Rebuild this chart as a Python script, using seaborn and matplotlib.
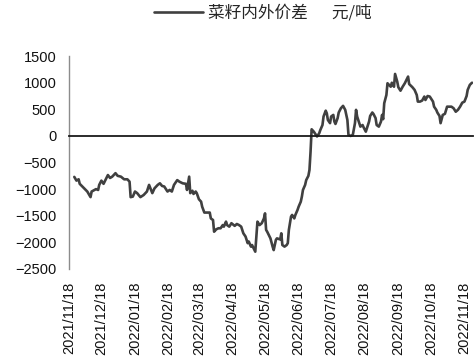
import matplotlib
matplotlib.use("Agg")
import matplotlib.pyplot as plt
import matplotlib.dates as mdates
import pandas as pd
import seaborn as sns

# Rapeseed domestic vs. overseas price spread (yuan/ton)
dates = [
    "2021-11-23", "2021-11-25", "2021-11-27", "2021-11-28", "2021-12-05", "2021-12-08",
    "2021-12-09", "2021-12-13", "2021-12-15", "2021-12-16", "2021-12-18", "2021-12-20",
    "2021-12-24", "2021-12-26", "2021-12-28", "2021-12-31", "2022-01-02", "2022-01-05",
    "2022-01-08", "2022-01-11", "2022-01-13", "2022-01-14", "2022-01-16", "2022-01-18",
    "2022-01-20", "2022-01-23", "2022-01-26", "2022-01-29", "2022-01-31", "2022-02-03",
    "2022-02-05", "2022-02-08", "2022-02-10", "2022-02-12", "2022-02-14", "2022-02-17",
    "2022-02-19", "2022-02-21", "2022-02-23", "2022-02-26", "2022-02-28", "2022-03-03",
    "2022-03-06", "2022-03-07", "2022-03-09", "2022-03-10", "2022-03-12", "2022-03-13",
    "2022-03-15", "2022-03-16", "2022-03-18", "2022-03-20", "2022-03-21", "2022-03-23",
    "2022-03-25", "2022-03-28", "2022-03-29", "2022-03-31", "2022-04-01", "2022-04-03",
    "2022-04-05", "2022-04-07", "2022-04-09", "2022-04-10", "2022-04-12", "2022-04-13",
    "2022-04-15", "2022-04-17", "2022-04-20", "2022-04-22", "2022-04-24", "2022-04-26",
    "2022-04-28", "2022-04-30", "2022-05-02", "2022-05-03", "2022-05-05", "2022-05-06",
    "2022-05-09", "2022-05-10", "2022-05-11", "2022-05-13", "2022-05-15", "2022-05-17",
    "2022-05-18", "2022-05-19", "2022-05-20", "2022-05-23", "2022-05-25", "2022-05-26",
    "2022-05-28", "2022-05-29", "2022-06-01", "2022-06-02", "2022-06-03", "2022-06-05",
    "2022-06-07", "2022-06-08", "2022-06-09", "2022-06-11", "2022-06-12", "2022-06-14",
    "2022-06-15", "2022-06-17", "2022-06-18", "2022-06-20", "2022-06-21", "2022-06-22",
    "2022-06-24", "2022-06-25", "2022-06-27", "2022-06-28", "2022-06-29", "2022-06-30",
    "2022-07-02", "2022-07-04", "2022-07-05", "2022-07-07", "2022-07-08", "2022-07-10",
    "2022-07-11", "2022-07-13", "2022-07-14", "2022-07-15", "2022-07-17", "2022-07-18",
    "2022-07-20", "2022-07-21", "2022-07-22", "2022-07-24", "2022-07-25", "2022-07-27",
    "2022-07-29", "2022-07-31", "2022-08-02", "2022-08-03", "2022-08-05", "2022-08-07",
    "2022-08-09", "2022-08-10", "2022-08-11", "2022-08-13", "2022-08-14", "2022-08-16",
    "2022-08-17", "2022-08-19", "2022-08-20", "2022-08-22", "2022-08-23", "2022-08-25",
    "2022-08-26", "2022-08-28", "2022-08-29", "2022-08-31", "2022-09-02", "2022-09-03",
    "2022-09-04", "2022-09-05", "2022-09-07", "2022-09-08", "2022-09-11", "2022-09-12",
    "2022-09-14", "2022-09-15", "2022-09-17", "2022-09-18", "2022-09-20", "2022-09-22",
    "2022-09-24", "2022-09-27", "2022-09-28", "2022-10-01", "2022-10-03", "2022-10-05",
    "2022-10-06", "2022-10-08", "2022-10-10", "2022-10-12", "2022-10-13", "2022-10-15",
    "2022-10-17", "2022-10-20", "2022-10-21", "2022-10-23", "2022-10-24", "2022-10-26",
    "2022-10-27", "2022-10-29", "2022-10-31", "2022-11-02", "2022-11-04", "2022-11-06",
    "2022-11-08", "2022-11-10", "2022-11-12", "2022-11-14", "2022-11-16", "2022-11-18",
    "2022-11-20", "2022-11-21", "2022-11-23", "2022-11-25",
]
spread = [
    -770, -840, -815, -900, -1045, -1150,
    -1045, -1000, -1015, -920, -840, -900,
    -735, -790, -765, -700, -750, -765,
    -815, -815, -860, -1150, -1140, -1045,
    -1075, -1150, -1110, -1045, -920, -1075,
    -985, -920, -890, -940, -950, -1045,
    -1015, -1045, -920, -830, -860, -890,
    -900, -1015, -765, -1075, -1030, -1090,
    -1045, -1075, -1190, -1235, -1330, -1440,
    -1440, -1440, -1550, -1580, -1800, -1755,
    -1735, -1735, -1675, -1705, -1610, -1675,
    -1705, -1640, -1690, -1655, -1675, -1705,
    -1830, -1890, -2015, -1985, -2080, -2050,
    -2175, -1890, -1610, -1675, -1640, -1550,
    -1455, -1765, -1800, -1925, -2080, -2145,
    -1955, -1925, -1945, -1830, -2050, -2080,
    -2050, -2015, -1765, -1515, -1485, -1550,
    -1485, -1390, -1330, -1235, -1140, -1015,
    -920, -830, -750, -640, -300, 125,
    80, 20, -10, 50, 110, 205,
    365, 475, 425, 300, 240, 365,
    395, 270, 225, 335, 440, 520,
    565, 490, 300, 20, 0, 20,
    240, 490, 365, 240, 175, 205,
    160, 80, 145, 270, 375, 440,
    415, 335, 205, 175, 270, 395,
    315, 615, 770, 990, 925, 1000,
    925, 1165, 1020, 915, 850, 925,
    990, 1115, 975, 915, 865, 770,
    645, 645, 665, 740, 675, 750,
    740, 645, 550, 490, 440, 375,
    240, 395, 415, 550, 550, 550,
    520, 455, 490, 550, 625, 645,
    750, 865, 960, 1000,
]
tick_labels = [
    "2021/11/18", "2021/12/18", "2022/01/18", "2022/02/18", "2022/03/18",
    "2022/04/18", "2022/05/18", "2022/06/18", "2022/07/18", "2022/08/18",
    "2022/09/18", "2022/10/18", "2022/11/18",
]
y_ticks = [-2500, -2000, -1500, -1000, -500, 0, 500, 1000, 1500]
series_name = "菜籽内外价差　  元/吨"

sns.set_style("white")
plt.rcParams["font.family"] = ["Liberation Sans", "Noto Sans CJK SC", "DejaVu Sans"]
plt.rcParams["axes.unicode_minus"] = True

df = pd.DataFrame({"date": pd.to_datetime(dates), "spread": spread})

fig = plt.figure(figsize=(4.75, 3.62), dpi=100)
ax = fig.add_axes([0.145, 0.257, 0.851, 0.588])

sns.lineplot(data=df, x="date", y="spread", ax=ax, color="#404040",
             linewidth=1.9, label=series_name, legend=False)

ax.set_xlim(pd.Timestamp("2021-11-18"), pd.Timestamp("2022-11-26"))
ax.set_ylim(-2500, 1500)
ax.set_yticks(y_ticks)
ax.set_xlabel("")
ax.set_ylabel("")

# axes styling: grey value axis on the left, dark zero line carrying the date ticks
for side in ("top", "right"):
    ax.spines[side].set_visible(False)
ax.spines["left"].set_color("#8c8c8c")
ax.spines["left"].set_linewidth(1.0)
ax.spines["bottom"].set_position(("data", 0))
ax.spines["bottom"].set_color("#1a1a1a")
ax.spines["bottom"].set_linewidth(1.3)

tick_pos = mdates.date2num(pd.to_datetime(tick_labels, format="%Y/%m/%d"))
ax.set_xticks(tick_pos)
ax.tick_params(axis="x", direction="out", length=3, width=1, color="#1a1a1a",
               labelbottom=False)
ax.tick_params(axis="y", direction="out", length=4, width=1, color="#8c8c8c",
               pad=5, labelsize=10.5, labelcolor="#111111")

# date labels sit along the bottom of the plot area
sec = ax.secondary_xaxis("bottom")
sec.set_xticks(tick_pos, labels=tick_labels, rotation=90)
sec.tick_params(length=0, pad=9, labelsize=10.5, labelcolor="#111111")
sec.spines["bottom"].set_visible(False)

handles, labels = ax.get_legend_handles_labels()
fig.legend(handles, labels, loc="center", bbox_to_anchor=(0.553, 0.964),
           frameon=False, handlelength=2.9, handletextpad=0.3,
           prop={"family": ["Noto Sans CJK SC", "DejaVu Sans"], "size": 12})

fig.savefig("out.png", dpi=100)
